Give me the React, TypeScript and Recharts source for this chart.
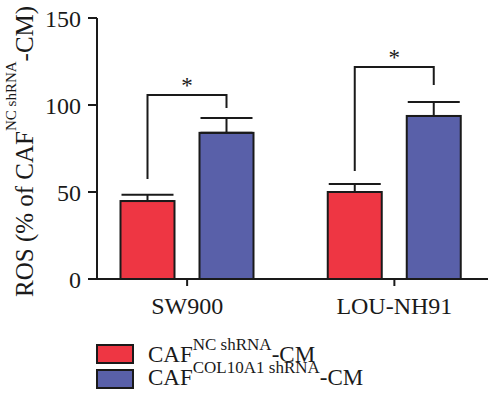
import React from 'react';
import { BarChart, Bar, XAxis, YAxis, ErrorBar, Legend } from 'recharts';

const cellLines = ['SW900', 'LOU-NH91'];
const ncValues = [44.8, 50.0];
const ncErrors = [3.6, 4.6];
const colValues = [84.0, 93.7];
const colErrors = [8.6, 8.0];
// significance brackets (axis units): left leg bottom, bar top, right leg bottom
const bracketLeft = [57.5, 62.0];
const bracketTop = [105.7, 121.8];
const bracketRight = [98.3, 111.5];
const sigMarks = ['*', '*'];
const yTicks = [0, 50, 100, 150];

const seriesNames = ['NC shRNA', 'COL10A1 shRNA'];
const seriesColors = ['#ee3643', '#5960a9'];

const FONT = '"Liberation Serif", "DejaVu Serif", serif';
const INK = '#1a1a1a';
const BAR_SIZE = 54;
const BAR_GAP = 25;

const data = cellLines.map((name, i) => ({
  name,
  nc: ncValues[i],
  ncErr: [0, ncErrors[i]],
  col: colValues[i],
  colErr: [0, colErrors[i]],
  bL: bracketLeft[i],
  bT: bracketTop[i],
  bR: bracketRight[i],
  sig: sigMarks[i],
}));

// red bar shape also draws the significance bracket to the neighbouring bar
const NcShape = (props: any) => {
  const { x, y, width, height, payload, fill } = props;
  const bottom = y + height;
  const k = height / payload.nc;
  const toY = (v: number) => bottom - v * k;
  const x1 = x + width / 2;
  const x2 = x1 + width + BAR_GAP;
  return (
    <g>
      <rect x={x} y={y} width={width} height={height} fill={fill} stroke={INK} strokeWidth={2} />
      <path
        d={`M${x1},${toY(payload.bL)}V${toY(payload.bT)}H${x2}V${toY(payload.bR)}`}
        stroke={INK}
        strokeWidth={2}
        fill="none"
      />
      <text x={(x1 + x2) / 2} y={toY(payload.bT) - 2} textAnchor="middle" fontFamily={FONT} fontSize={23} fill={INK}>
        {payload.sig}
      </text>
    </g>
  );
};

const ColShape = (props: any) => {
  const { x, y, width, height, fill } = props;
  return <rect x={x} y={y} width={width} height={height} fill={fill} stroke={INK} strokeWidth={2} />;
};

const YLabel = () => (
  <text transform="translate(33,297) rotate(-90)" fontFamily={FONT} fontSize={25} fill={INK}>
    <tspan>ROS (% of CAF</tspan>
    <tspan dy={-17} fontSize={15}>NC shRNA</tspan>
    <tspan dy={17}>-CM)</tspan>
  </text>
);

const LegendContent = () => (
  <svg width={488} height={62} style={{ display: 'block' }}>
    {seriesNames.map((s, i) => (
      <g key={s}>
        <rect x={97} y={15 + i * 25} width={36} height={18} fill={seriesColors[i]} stroke={INK} strokeWidth={2} />
        <text x={148} y={32 + i * 23} fontFamily={FONT} fontSize={23} fill={INK}>
          <tspan>CAF</tspan>
          <tspan dy={-12} fontSize={17}>{s}</tspan>
          <tspan dy={12}>-CM</tspan>
        </text>
      </g>
    ))}
  </svg>
);

export default function App() {
  return (
    <div style={{ position: 'absolute', left: 0, top: 0, width: 488, height: 396, overflow: 'hidden', background: '#fff' }}>
      <BarChart
        width={498}
        height={396}
        data={data}
        margin={{ top: 18, right: 0, bottom: 77, left: 37 }}
        barSize={BAR_SIZE}
        barGap={BAR_GAP}
      >
        <XAxis
          dataKey="name"
          padding={{ left: -13.5, right: 0 }}
          tickSize={7}
          tickMargin={11}
          axisLine={{ stroke: INK, strokeWidth: 2 }}
          tickLine={{ stroke: INK, strokeWidth: 2 }}
          tick={{ fontFamily: FONT, fontSize: 24, fill: INK }}
          height={40}
        />
        <YAxis
          domain={[0, 150]}
          ticks={yTicks}
          width={60}
          tickSize={9}
          tickMargin={7}
          axisLine={{ stroke: INK, strokeWidth: 2 }}
          tickLine={{ stroke: INK, strokeWidth: 2 }}
          tick={{ fontFamily: FONT, fontSize: 24, fill: INK }}
          label={<YLabel />}
        />
        <Legend
          layout="horizontal"
          verticalAlign="middle"
          align="center"
          wrapperStyle={{ left: 0, top: 330, width: 488 }}
          content={<LegendContent />}
        />
        <Bar dataKey="nc" fill={seriesColors[0]} shape={<NcShape />} isAnimationActive={false}>
          <ErrorBar dataKey="ncErr" width={26} strokeWidth={2} stroke={INK} direction="y" />
        </Bar>
        <Bar dataKey="col" fill={seriesColors[1]} shape={<ColShape />} isAnimationActive={false}>
          <ErrorBar dataKey="colErr" width={26} strokeWidth={2} stroke={INK} direction="y" />
        </Bar>
      </BarChart>
    </div>
  );
}
